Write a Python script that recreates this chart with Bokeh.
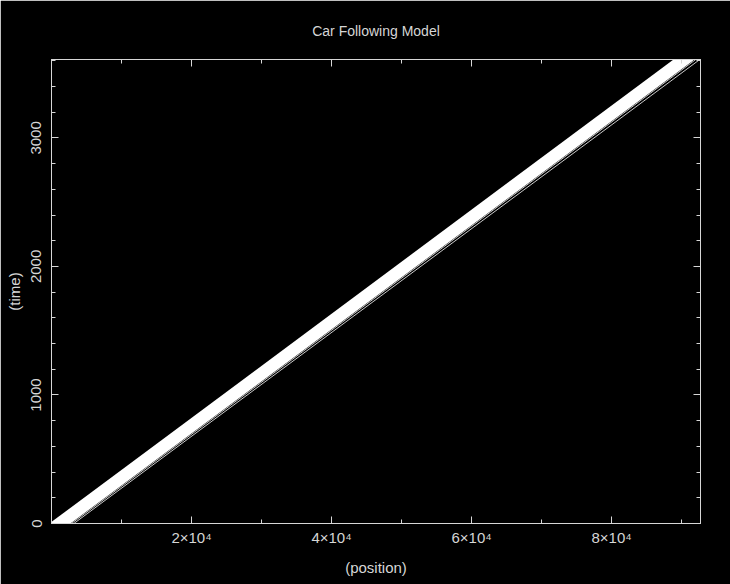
from bokeh.plotting import figure
from bokeh.models import Range1d, LinearAxis, FixedTicker
from bokeh.embed import file_html
from bokeh.resources import INLINE

# ---- data (position in m, time in s) ----
time_points = [0, 3610]
# cars forming the dense platoon: position at t=0 and at t=3610
platoon_start = [0, 200, 400, 600, 800, 1000, 1200, 1400, 1600, 1800, 2000, 2200, 2400]
platoon_end = [89150, 89350, 89560, 89760, 89950, 90150, 90360, 90560, 90760, 90950, 91150, 91350, 91560]
# the two cars running slightly ahead of the platoon
leader_start = [2850, 3200]
leader_end = [92020, 92600]

x_range = (0, 92700)
y_range = (0, 3610)
x_major = [20000, 40000, 60000, 80000]
x_minor = [10000, 20000, 30000, 40000, 50000, 60000, 70000, 80000, 90000]
x_labels = {20000: "2×10⁴", 40000: "4×10⁴", 60000: "6×10⁴", 80000: "8×10⁴"}
y_major = [0, 1000, 2000, 3000]
y_minor = [0, 200, 400, 600, 800, 1000, 1200, 1400, 1600, 1800, 2000, 2200,
           2400, 2600, 2800, 3000, 3200, 3400, 3600]

FG = "#d6d6d6"
FONT = "Liberation Sans"

p = figure(width=730, height=584, output_backend="svg", toolbar_location=None,
           x_range=Range1d(*x_range), y_range=Range1d(*y_range),
           background_fill_color="black", border_fill_color="black",
           min_border_left=51, min_border_right=30, min_border_top=59, min_border_bottom=61,
           title="Car Following Model")
p.outline_line_color = FG
p.grid.visible = False

p.title.align = "center"
p.title.text_color = FG
p.title.text_font = FONT
p.title.text_font_size = "14px"
p.title.text_font_style = "normal"
p.title.standoff = 41


def style(ax, major, minor):
    ax.ticker = FixedTicker(ticks=major, minor_ticks=minor)
    ax.axis_line_color = FG
    ax.major_tick_line_color = FG
    ax.minor_tick_line_color = FG
    ax.major_tick_in = 7
    ax.major_tick_out = 0
    ax.minor_tick_in = 4
    ax.minor_tick_out = 0
    ax.major_label_text_color = FG
    ax.major_label_text_font = FONT
    ax.major_label_text_font_size = "15px"
    ax.axis_label_text_color = FG
    ax.axis_label_text_font = FONT
    ax.axis_label_text_font_size = "15px"
    ax.axis_label_text_font_style = "normal"


def tick_only_axis(tick_positions, length):
    # an axis that draws only inward ticks (as minor ticks, so no labels)
    ax = LinearAxis(ticker=FixedTicker(ticks=[], minor_ticks=tick_positions))
    ax.axis_line_color = FG
    ax.minor_tick_line_color = FG
    ax.minor_tick_in = length
    ax.minor_tick_out = 0
    ax.major_tick_in = 0
    ax.major_tick_out = 0
    ax.major_label_standoff = 0
    ax.axis_label_standoff = 0
    return ax


xb = p.xaxis[0]
style(xb, x_major, x_minor)
xb.major_label_overrides = x_labels
xb.axis_label = "(position)"
xb.major_label_standoff = 5
xb.axis_label_standoff = 10

yl = p.yaxis[0]
style(yl, y_major, y_minor)
yl.axis_label = "(time)"
yl.major_label_orientation = "vertical"
yl.major_label_standoff = 10
yl.axis_label_standoff = 6

p.add_layout(tick_only_axis(x_minor, 4), "above")
p.add_layout(tick_only_axis(x_major, 7), "above")
p.add_layout(tick_only_axis(y_minor, 4), "right")
p.add_layout(tick_only_axis(y_major, 7), "right")

p.multi_line(xs=[[s, e] for s, e in zip(platoon_start, platoon_end)],
             ys=[time_points for _ in platoon_start],
             line_color="white", line_width=2.5)
p.multi_line(xs=[[s, e] for s, e in zip(leader_start, leader_end)],
             ys=[time_points for _ in leader_start],
             line_color="#c8c8c8", line_width=1)

open("out.html", "w").write(file_html(p, INLINE))
